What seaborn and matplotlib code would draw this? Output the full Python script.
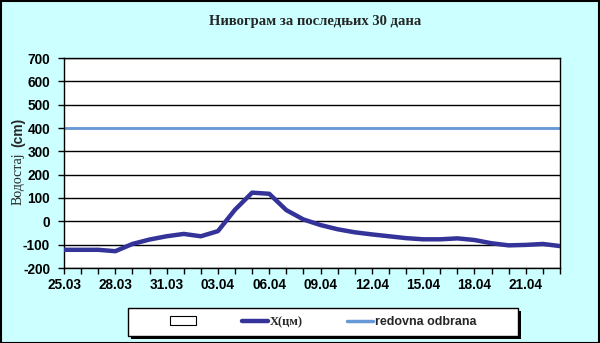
import matplotlib
matplotlib.use("Agg")
import matplotlib.pyplot as plt
from matplotlib.patches import Rectangle, Patch
from matplotlib.lines import Line2D
import seaborn as sns
import pandas as pd

dates = ["25.03", "26.03", "27.03", "28.03", "29.03", "30.03", "31.03", "01.04",
         "02.04", "03.04", "04.04", "05.04", "06.04", "07.04", "08.04", "09.04",
         "10.04", "11.04", "12.04", "13.04", "14.04", "15.04", "16.04", "17.04",
         "18.04", "19.04", "20.04", "21.04", "22.04", "23.04"]
water_level = [-122, -122, -122, -128, -97, -78, -64, -54,
               -64, -42, 50, 123, 118, 48, 8, -16,
               -34, -47, -56, -64, -72, -77, -77, -73,
               -80, -94, -103, -101, -97, -106]
defense_level = 400
y_ticks = [-200, -100, 0, 100, 200, 300, 400, 500, 600, 700]

title = "Нивограм за последњих 30 дана"
ylabel_word = "Водостај"
ylabel_unit = "(cm)"
series_label = "X(цм)"
defense_label = "redovna odbrana"

dark = "#333399"
light = "#6699D6"
bg = "#CCFFFF"

sns.set_theme(style="white")
plt.rcParams["font.family"] = ["Liberation Sans", "DejaVu Sans"]

W, H = 600, 343
fig = plt.figure(figsize=(W / 100, H / 100), dpi=100, facecolor=bg)
ax = fig.add_axes([64 / W, 1 - 268 / H, (560 - 64) / W, (268 - 58) / H])
ax.set_facecolor("white")

df = pd.DataFrame({"day": range(len(dates)), "level": water_level})

for y in y_ticks:
    ax.axhline(y, color="black", lw=1.0, zorder=1)
ax.axhline(defense_level, color=light, lw=2.0, zorder=2)
sns.lineplot(data=df, x="day", y="level", color=dark, linewidth=3.2, ax=ax, zorder=3)

ax.set_xlim(0, len(dates) - 1)
ax.set_ylim(-200, 700)
ax.set_yticks(y_ticks)
ax.set_yticklabels([str(v) for v in y_ticks], fontsize=9.8, fontweight="bold")
ax.set_xticks(range(len(dates)))
ax.set_xticklabels([d if i % 3 == 0 else "" for i, d in enumerate(dates)],
                   fontsize=9.8, fontweight="bold")
ax.tick_params(axis="both", which="major", direction="out", length=4, width=1,
               color="black", bottom=True, left=True, labelcolor="black")
ax.tick_params(axis="y", pad=6)
ax.tick_params(axis="x", pad=3)
ax.set_xlabel("")
ax.set_ylabel("")
for s in ax.spines.values():
    s.set_visible(True)
    s.set_color("black")
    s.set_linewidth(1.0)

# y-axis title: Cyrillic word in serif, unit in bold sans
fig.text(18 / W, 1 - 205 / H, ylabel_word, rotation=90, ha="center", va="bottom",
         family=["Liberation Serif", "DejaVu Serif"], fontsize=10)
fig.text(18 / W, 1 - 147 / H, ylabel_unit, rotation=90, ha="center", va="bottom",
         fontweight="bold", fontsize=10)
fig.text(315 / W, 1 - 22 / H, title, ha="center", va="center",
         family=["Liberation Serif", "DejaVu Serif"], fontweight="bold", fontsize=10.5)

# legend frame with shadow
lx0, lx1, ly0, ly1 = 128, 518, 308, 336
fig.patches.append(Rectangle(((lx0 + 3) / W, 1 - (ly1 + 3) / H), (lx1 - lx0) / W,
                             (ly1 - ly0) / H, transform=fig.transFigure,
                             facecolor="black", edgecolor="none", zorder=0))
fig.patches.append(Rectangle((lx0 / W, 1 - ly1 / H), (lx1 - lx0) / W, (ly1 - ly0) / H,
                             transform=fig.transFigure, facecolor="white",
                             edgecolor="black", linewidth=1, zorder=1))
handles = [Patch(facecolor="white", edgecolor="black", linewidth=0.8),
           Line2D([], [], color=dark, lw=3.2),
           Line2D([], [], color=light, lw=2.5)]
labels = ["", series_label, defense_label]
leg = fig.legend(handles, labels, loc="center", bbox_to_anchor=(323 / W, 1 - 322 / H),
                 ncol=3, frameon=False, handlelength=2.1,
                 handletextpad=0.16, columnspacing=3.5,
                 prop={"weight": "bold", "size": 9})
texts = leg.get_texts()
texts[1].set_family(["Liberation Serif", "DejaVu Serif"])

# outer figure border
fig.patches.append(Rectangle((0.5 / W, 0.5 / H), (W - 1.5) / W, (H - 1.5) / H,
                             transform=fig.transFigure, facecolor="none",
                             edgecolor="black", linewidth=1.5, zorder=5))

fig.savefig("out.png", dpi=100, facecolor=bg)
